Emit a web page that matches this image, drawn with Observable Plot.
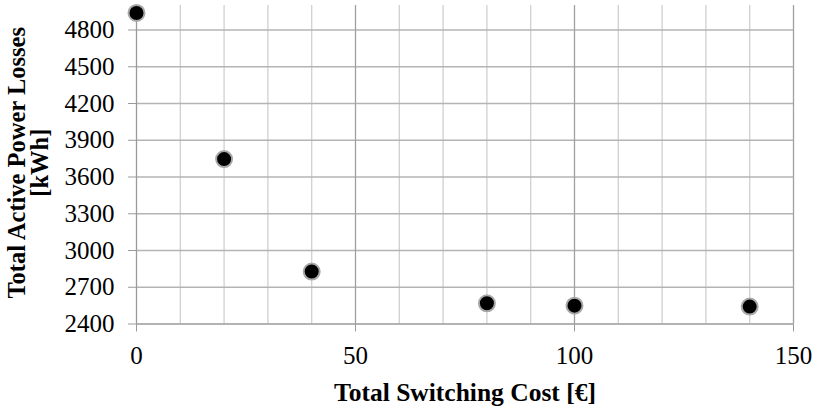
<!DOCTYPE html>
<html>
<head>
<meta charset="utf-8">
<script src="https://cdn.jsdelivr.net/npm/d3@7"></script>
<script src="https://cdn.jsdelivr.net/npm/@observablehq/plot@0.6"></script>
<style>
  html, body { margin: 0; padding: 0; background: white; }
</style>
</head>
<body>
<div id="chart"></div>
<script>
// Data
const switchingCost = [0, 20, 40, 80, 100, 140];
const powerLosses = [4939, 3746, 2828, 2569, 2550, 2542];

// Axis ticks and grid
const xTicks = [0, 50, 100, 150];
const xMinorGrid = [10, 20, 30, 40, 60, 70, 80, 90, 110, 120, 130, 140];
const yTicks = [2400, 2700, 3000, 3300, 3600, 3900, 4200, 4500, 4800];
const xDomain = [0, 150];
const yDomain = [2400, 5000];

const xTitle = "Total Switching Cost [€]";
const yTitle = "Total Active Power Losses\n[kWh]";

const data = switchingCost.map((c, i) => ({cost: c, loss: powerLosses[i]}));

const chart = Plot.plot({
  width: 816,
  height: 412,
  marginLeft: 136,
  marginRight: 23,
  marginTop: 5,
  marginBottom: 88.5,
  style: {fontFamily: "'Liberation Serif', 'Times New Roman', serif", fontSize: "25px", background: "white", color: "black"},
  x: {domain: xDomain, axis: null},
  y: {domain: yDomain, axis: null},
  marks: [
    Plot.ruleX(xMinorGrid, {stroke: "#d0d0d0", strokeWidth: 1.3}),
    Plot.ruleY(yTicks.slice(1), {stroke: "#b4b4b4", strokeWidth: 1.3, x1: 0, x2: 150}),
    Plot.ruleX(xTicks.slice(1), {stroke: "#a0a0a0", strokeWidth: 1.3}),
    Plot.axisY({ticks: yTicks, tickSize: 8, tickPadding: 14, label: null, stroke: "#9a9a9a", fill: "black", fontSize: 25, tickFormat: d => String(d)}),
    Plot.axisX({ticks: xTicks, tickSize: 8, tickPadding: 14, label: null, stroke: "#9a9a9a", fill: "black", fontSize: 25, tickFormat: d => String(d)}),
    Plot.ruleX([xDomain[0]], {stroke: "#9a9a9a", strokeWidth: 1.3}),
    Plot.ruleY([yDomain[0]], {stroke: "#9a9a9a", strokeWidth: 1.3}),
    Plot.dot(data, {x: "cost", y: "loss", r: 8, fill: "black", stroke: "#a8a8a8", strokeWidth: 2}),
    Plot.text([xTitle], {text: d => d, frameAnchor: "bottom", dy: 69, fontWeight: "bold", fontSize: 25.5, fill: "black", lineAnchor: "middle"}),
    Plot.text([yTitle], {text: d => d, frameAnchor: "left", rotate: -90, dx: -107, dy: -2, fontWeight: "bold", fontSize: 24.5, fill: "black", lineAnchor: "middle", textAnchor: "middle", lineHeight: 0.92})
  ]
});
document.getElementById("chart").appendChild(chart);
</script>
</body>
</html>
